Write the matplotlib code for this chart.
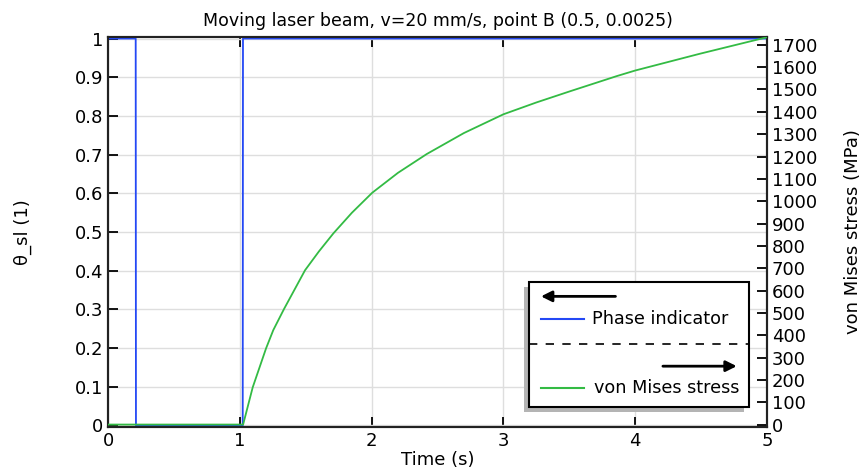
import matplotlib
matplotlib.use('Agg')
import matplotlib.pyplot as plt
from matplotlib.patches import Rectangle
from matplotlib.ticker import FuncFormatter

# Phase indicator (left axis)
phase_t = [0.0, 0.21, 0.212, 1.022, 1.024, 5.0]
phase_v = [1.0, 1.0, 0.0, 0.0, 1.0, 1.0]

# von Mises stress (right axis, MPa)
stress_t = [0.0, 1.025, 1.098, 1.199, 1.254, 1.335, 1.495, 1.6, 1.71, 1.85, 2.005,
            2.2, 2.418, 2.7, 3.0, 3.25, 3.505, 3.86, 4.0, 4.49, 5.0]
stress_v = [0, 0, 167, 341, 423, 517, 691, 775, 856, 948, 1038,
            1127, 1211, 1305, 1389, 1442, 1492, 1560, 1585, 1660, 1734]

x_ticks = [0, 1, 2, 3, 4, 5]
left_ticks = [0, 0.1, 0.2, 0.3, 0.4, 0.5, 0.6, 0.7, 0.8, 0.9, 1.0]
right_ticks = list(range(0, 1800, 100))

BLUE = '#2448f5'
GREEN = '#33bb44'
FS = 13

fig = plt.figure(figsize=(8.6, 4.72), dpi=100)
ax = fig.add_axes([0.1256, 0.0953, 0.7663, 0.8263])
ax2 = ax.twinx()

ax.plot(phase_t, phase_v, color=BLUE, lw=1.3, zorder=3)
ax2.plot(stress_t, stress_v, color=GREEN, lw=1.3, zorder=3)

ax.set_xlim(0, 5)
ax.set_ylim(-0.004, 1.004)
ax2.set_ylim(-11, 1735)

ax.set_xticks(x_ticks)
ax.set_yticks(left_ticks)
ax2.set_yticks(right_ticks)
ax.yaxis.set_major_formatter(FuncFormatter(lambda v, p: '%g' % round(v, 2)))

ax.grid(True, color='#dedede', lw=1)
ax.set_axisbelow(True)

ax.tick_params(axis='both', which='major', direction='in', length=7, width=1.3,
               labelsize=FS, top=True)
ax2.tick_params(axis='y', direction='in', length=7, width=1.3, labelsize=FS)
for a in (ax, ax2):
    for s in a.spines.values():
        s.set_linewidth(1.5)
        s.set_color('#222222')

ax.set_title('Moving laser beam, v=20 mm/s, point B (0.5, 0.0025)', fontsize=12.5, pad=8)
ax.set_xlabel('Time (s)', fontsize=FS, labelpad=1)
ax.set_ylabel('θ_sl (1)', fontsize=FS, labelpad=31)
ax2.set_ylabel('von Mises stress (MPa)', fontsize=FS, labelpad=19)

# legend box drawn by hand (axes fraction coords)
tr = ax2.transAxes
bx0, by0, bx1, by1 = 0.639, 0.051, 0.973, 0.372
ax2.add_patch(Rectangle((bx0 - 0.0076, by0 - 0.0128), bx1 - bx0, by1 - by0,
                        transform=tr, facecolor='#b4b4b4', edgecolor='none',
                        zorder=10, clip_on=False))
ax2.add_patch(Rectangle((bx0, by0), bx1 - bx0, by1 - by0, transform=tr,
                        facecolor='white', edgecolor='black', lw=1.5,
                        zorder=11, clip_on=False))
ax2.plot([bx0, bx1], [0.213, 0.213], transform=tr, color='black', lw=1.2,
         ls=(0, (5, 5)), zorder=12, clip_on=False)
ax2.annotate('', xy=(0.657, 0.335), xytext=(0.770, 0.335), xycoords=tr,
             arrowprops=dict(arrowstyle='-|>', lw=2, color='black',
                             mutation_scale=16, shrinkA=0, shrinkB=0), zorder=12)
ax2.annotate('', xy=(0.954, 0.156), xytext=(0.842, 0.156), xycoords=tr,
             arrowprops=dict(arrowstyle='-|>', lw=2, color='black',
                             mutation_scale=16, shrinkA=0, shrinkB=0), zorder=12)
ax2.plot([0.657, 0.722], [0.277, 0.277], transform=tr, color=BLUE, lw=1.5,
         zorder=12, clip_on=False)
ax2.plot([0.657, 0.722], [0.100, 0.100], transform=tr, color=GREEN, lw=1.5,
         zorder=12, clip_on=False)
ax2.text(0.735, 0.277, 'Phase indicator', transform=tr, fontsize=12.7,
         va='center', ha='left', zorder=12)
ax2.text(0.738, 0.100, 'von Mises stress', transform=tr, fontsize=12.7,
         va='center', ha='left', zorder=12)

fig.savefig('out.png', dpi=100)
